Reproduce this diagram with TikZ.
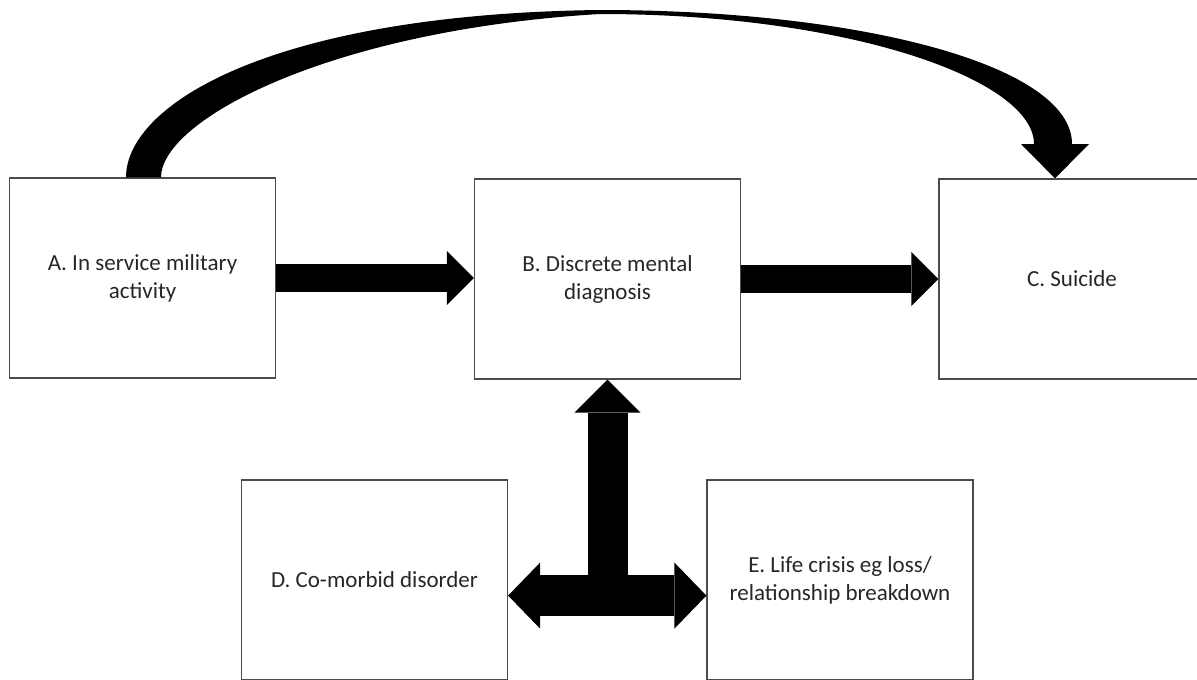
\documentclass[tikz,border=0pt]{standalone}
\usepackage{fontspec}
\setmainfont{Carlito}
\usetikzlibrary{arrows.meta,calc}
\begin{document}
\begin{tikzpicture}[x=1pt,y=-1pt,
  box/.style={draw=black!70, line width=1.2pt, minimum width=266pt, minimum height=200pt,
    align=center, font=\fontsize{23}{28}\selectfont, text=black!85, inner sep=0pt},
  blockarrow/.style={line width=28pt, -{Triangle[width=54pt,length=27pt,line width=0pt]}},
  bigarrow/.style={line width=40pt},
  bighead/.style={Triangle[width=66pt,length=32pt,line width=0pt]}
]
\useasboundingbox (0,0) rectangle (1197,680);
\node[box] (A) at (142.5,278) {A. In service military\\activity};
\node[box] (B) at (607.5,279) {B. Discrete mental\\diagnosis};
\node[box] (C) at (1072,279) {C. Suicide};
\node[box] (D) at (374.5,580) {D. Co-morbid disorder};
\node[box] (E) at (840,580) {E. Life crisis eg loss/\\relationship breakdown};

% straight block arrows
\draw[blockarrow] (A.east) -- (A.east -| B.west);
\draw[blockarrow] (B.east) -- (B.east -| C.west);

% T-shaped arrow
\coordinate (J) at ($(B.south)+(0,216)$);
\draw[bigarrow, {[sep=0pt]}-{Triangle[width=66pt,length=33pt,line width=0pt]}] (J) -- (B.south);
\draw[line width=41pt, {Triangle[width=66pt,length=32pt,line width=0pt]}-{Triangle[width=66pt,length=32pt,line width=0pt]}] (D.east |- J) -- (E.west |- J);

% curved tapering arrow from A to C
\coordinate (tip) at ($(C.north)+(-17,0)$);
\fill[black] ($(A.north)+(-16.5,0)$) .. controls (126,105) and (270,14) .. (600,10)
  .. controls (860,10) and (1072,65) .. (1072,144) -- (1089,144) -- (tip) -- (1021,144) -- (1034,144)
  .. controls (1034,80) and (850,14) .. (600,14)
  .. controls (330,30) and (161,120) .. ($(A.north)+(18.5,0)$) -- cycle;
\end{tikzpicture}
\end{document}
